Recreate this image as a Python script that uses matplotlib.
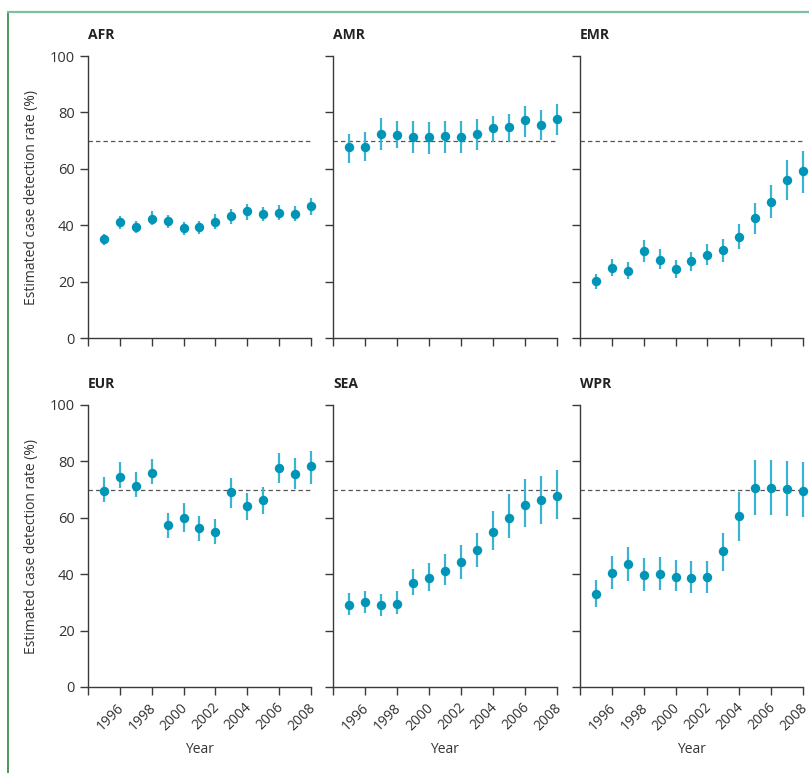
import matplotlib
matplotlib.use("Agg")
import matplotlib.pyplot as plt
from matplotlib.lines import Line2D
from matplotlib.transforms import ScaledTranslation

plt.rcParams['font.family'] = ['Open Sans', 'DejaVu Sans']

# years 1995-2008, one estimate (with lower/upper bound) per WHO region
years = [1995, 1996, 1997, 1998, 1999, 2000, 2001, 2002, 2003, 2004, 2005, 2006, 2007, 2008]
regions = ["AFR", "AMR", "EMR", "EUR", "SEA", "WPR"]

afr = [35.0, 41.2, 39.4, 42.2, 41.4, 38.9, 39.3, 41.3, 43.3, 44.9, 43.8, 44.5, 44.1, 46.7]
afr_lo = [33.0, 38.8, 37.3, 40.0, 39.0, 36.7, 37.0, 38.7, 40.6, 41.8, 41.4, 42.0, 41.5, 43.6]
afr_hi = [37.0, 43.2, 41.5, 45.0, 43.6, 41.2, 41.5, 43.8, 45.9, 47.5, 46.5, 47.3, 46.9, 49.5]

amr = [67.7, 67.9, 72.3, 72.0, 71.2, 71.1, 71.5, 71.4, 72.3, 74.3, 74.8, 77.3, 75.7, 77.8]
amr_lo = [61.9, 62.8, 66.6, 67.2, 65.7, 65.2, 65.7, 65.7, 66.6, 69.6, 69.6, 71.4, 70.2, 72.0]
amr_hi = [72.5, 73.0, 77.9, 76.9, 76.9, 76.6, 76.9, 76.8, 77.8, 78.7, 79.6, 82.1, 80.8, 83.0]

emr = [20.1, 24.9, 23.9, 30.8, 27.7, 24.5, 27.2, 29.6, 31.1, 35.7, 42.6, 48.2, 55.9, 59.1]
emr_lo = [17.5, 21.9, 20.9, 27.0, 24.3, 21.4, 23.8, 25.8, 27.1, 31.5, 37.0, 42.4, 49.1, 51.5]
emr_hi = [22.8, 28.0, 27.1, 34.7, 31.4, 27.6, 30.4, 33.3, 35.1, 40.4, 47.9, 54.1, 63.1, 66.4]

eur = [69.4, 74.4, 71.4, 75.8, 57.5, 60.1, 56.4, 55.1, 69.0, 64.2, 66.2, 77.7, 75.7, 78.3]
eur_lo = [65.6, 70.4, 67.5, 72.0, 52.9, 55.0, 51.8, 50.8, 63.6, 59.3, 61.4, 72.3, 70.2, 72.0]
eur_hi = [74.5, 79.8, 76.4, 80.8, 61.6, 65.2, 60.8, 59.5, 74.1, 68.8, 70.8, 83.1, 81.2, 83.7]

sea = [29.0, 30.1, 29.2, 29.6, 36.8, 38.6, 41.3, 44.5, 48.5, 55.0, 60.1, 64.7, 66.2, 67.9]
sea_lo = [25.4, 26.2, 25.3, 25.9, 32.7, 33.9, 36.2, 38.4, 42.5, 48.6, 52.9, 56.7, 57.9, 59.6]
sea_hi = [33.5, 33.9, 33.1, 33.9, 41.8, 43.8, 47.2, 50.4, 54.5, 62.5, 68.4, 73.7, 74.9, 77.0]

wpr = [33.1, 40.6, 43.6, 39.8, 40.1, 39.0, 38.8, 39.0, 48.1, 60.7, 70.4, 70.4, 70.1, 69.5]
wpr_lo = [28.2, 34.8, 37.6, 33.9, 34.3, 33.9, 33.2, 33.2, 41.0, 51.7, 61.0, 61.0, 60.6, 60.2]
wpr_hi = [38.0, 46.6, 49.8, 45.7, 46.0, 45.1, 44.7, 44.7, 54.5, 69.3, 80.5, 80.5, 80.2, 79.8]

target = 70
xticks = [1994, 1996, 1998, 2000, 2002, 2004, 2006, 2008]
xticklabels = ["", "1996", "1998", "2000", "2002", "2004", "2006", "2008"]
yticks = [0, 20, 40, 60, 80, 100]

series = {
    "AFR": (afr, afr_lo, afr_hi),
    "AMR": (amr, amr_lo, amr_hi),
    "EMR": (emr, emr_lo, emr_hi),
    "EUR": (eur, eur_lo, eur_hi),
    "SEA": (sea, sea_lo, sea_hi),
    "WPR": (wpr, wpr_lo, wpr_hi),
}

W, H = 809, 773
fig = plt.figure(figsize=(W / 100, H / 100), dpi=100)

# green frame (left and top edges only)
fig.add_artist(Line2D([8 / W, 8 / W], [0, 1 - 12 / H], transform=fig.transFigure,
                      color="#2e8540", lw=1.2))
fig.add_artist(Line2D([8 / W, 1], [1 - 12 / H, 1 - 12 / H], transform=fig.transFigure,
                      color="#7fbf9f", lw=1.6))

lefts = [88, 333, 580]
widths = [223, 224, 223]
tops = [56, 405]
ax_h = 282

axis_col = "#3a3a3a"
dot_col = "#0095b6"
bar_col = "#3bb4d4"

for i, name in enumerate(regions):
    r, c = divmod(i, 3)
    ax = fig.add_axes([lefts[c] / W, 1 - (tops[r] + ax_h) / H, widths[c] / W, ax_h / H])
    vals, lo, hi = series[name]
    err = [[v - l for v, l in zip(vals, lo)], [h - v for v, h in zip(vals, hi)]]
    ax.axhline(target, color="#555555", lw=0.9, ls=(0, (3.5, 2.5)), zorder=1)
    ax.errorbar(years, vals, yerr=err, fmt="none", ecolor=bar_col, elinewidth=1.6,
                capsize=0, zorder=2, clip_on=False)
    ax.plot(years, vals, "o", color=dot_col, ms=6.8, mec="none", zorder=3, clip_on=False)

    ax.set_xlim(1994, 2008)
    ax.set_ylim(0, 100)
    ax.set_yticks(yticks)
    ax.set_xticks(xticks)
    for s in ["top", "right"]:
        ax.spines[s].set_visible(False)
    for s in ["left", "bottom"]:
        ax.spines[s].set_color(axis_col)
        ax.spines[s].set_linewidth(1.0)
    ax.tick_params(axis="both", direction="out", length=6, width=1.0, color=axis_col,
                   labelsize=10.5, labelcolor="#333333")
    if c == 0:
        ax.set_yticklabels([str(v) for v in yticks])
        ax.set_ylabel("Estimated case detection rate (%)", fontsize=10, color="#333333",
                      labelpad=8)
    else:
        ax.set_yticklabels([])
    if r == 1:
        ax.set_xticklabels(xticklabels, rotation=45, ha="right", rotation_mode="anchor",
                           fontsize=10)
        # nudge the rotated year labels a little to the left
        shift = ScaledTranslation(-3 / 100, 0, fig.dpi_scale_trans)
        for lab in ax.get_xticklabels():
            lab.set_transform(lab.get_transform() + shift)
        ax.set_xlabel("Year", fontsize=10, color="#333333", labelpad=6)
    else:
        ax.set_xticklabels([])
    ax.text(0, 1.0 + 21 / ax_h, name, transform=ax.transAxes, fontsize=10,
            fontweight="bold", color="#222222", va="center", ha="left")

fig.savefig("out.png", dpi=100)
